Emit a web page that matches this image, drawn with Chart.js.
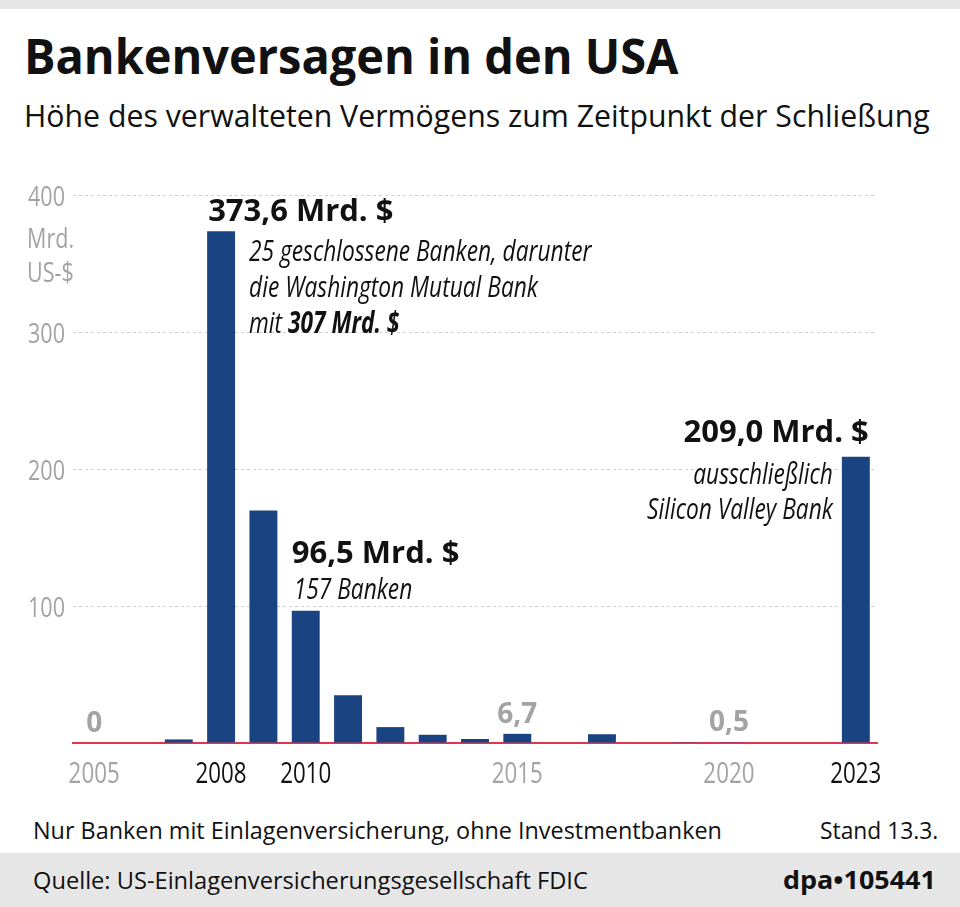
<!DOCTYPE html>
<html lang="de">
<head>
<meta charset="utf-8">
<title>Bankenversagen in den USA</title>
<script src="https://cdn.jsdelivr.net/npm/chart.js@4.4.1/dist/chart.umd.min.js"></script>
<style>
  body { margin: 0; width: 960px; height: 907px; position: relative; overflow: hidden; background: #fff; font-family: "Open Sans", sans-serif; color: #111; }
  .band { position: absolute; left: 0; width: 960px; background: #e6e6e6; }
  .txt { position: absolute; white-space: nowrap; line-height: 1; transform-origin: left center; }
  .txt.r { transform-origin: right center; }
  #chart { position: absolute; left: 0; top: 0; }
</style>
</head>
<body>
<div class="band" style="top:0;height:9px"></div>
<div class="band" style="top:853px;height:54px"></div>

<div class="txt" id="title" data-w="654" style="left:24px;font-size:49px;font-weight:700">Bankenversagen in den USA</div>
<div class="txt" id="subtitle" data-w="906" style="left:24px;font-size:31px">Höhe des verwalteten Vermögens zum Zeitpunkt der Schließung</div>
<div class="txt" id="note" data-w="689" style="left:33px;font-size:23px">Nur Banken mit Einlagenversicherung, ohne Investmentbanken</div>
<div class="txt r" id="stand" data-w="118" style="right:22px;font-size:23px">Stand 13.3.</div>
<div class="txt" id="source" data-w="555" style="left:33px;font-size:23px">Quelle: US-Einlagenversicherungsgesellschaft FDIC</div>
<div class="txt r" id="dpa" data-w="153" style="right:24px;font-size:25px;font-weight:700">dpa•105441</div>

<canvas id="chart" width="960" height="907"></canvas>

<script>
// Daten (FDIC, verwaltetes Vermögen geschlossener Banken, Mrd. US-$)
const years = ['2005', '2006', '2007', '2008', '2009', '2010', '2011', '2012', '2013', '2014',
               '2015', '2016', '2017', '2018', '2019', '2020', '2021', '2022', '2023'];
const assets = [0, 0, 2.6, 373.6, 169.7, 96.5, 34.9, 11.6, 6.0, 2.9,
                6.7, 0, 6.4, 0, 0.2, 0.5, 0, 0, 209.0];

const shownYears = ['2005', '2008', '2010', '2015', '2020', '2023'];
const darkYears = ['2008', '2010', '2023'];
const yTicks = [100, 200, 300, 400];
const unitLines = ['Mrd.', 'US-$'];

// graue Werte direkt über der Nulllinie
const greyValueYears = ['2005', '2015', '2020'];
// hervorgehobene Werte mit Erläuterung
const calloutYears = ['2008', '2010', '2023'];
const calloutNotes = [
    ['25 geschlossene Banken, darunter', 'die Washington Mutual Bank', 'mit **307 Mrd. $**'],
    ['157 Banken'],
    ['ausschließlich', 'Silicon Valley Bank']
];

const BLUE = '#1a4382';
const GREY = '#a3a3a3';
const RED = '#e3344f';
const FONT = '"Open Sans", "Noto Sans", sans-serif';
const SQUEEZE = 0.77; // schmale Schrift nachbilden

function fmt(v) {
    if (v === 0) return '0';
    return v.toLocaleString('de-DE', { minimumFractionDigits: 1, maximumFractionDigits: 1 });
}

// Text per Grundlinie setzen und horizontal auf Zielbreite stauchen
function place(id, baseline) {
    const el = document.getElementById(id);
    const fs = parseFloat(el.style.fontSize);
    el.style.top = (baseline - 0.888 * fs) + 'px';
    const target = parseFloat(el.dataset.w);
    el.style.transform = 'scaleX(' + (target / el.offsetWidth) + ')';
}
place('title', 75);
place('subtitle', 128);
place('note', 839);
place('stand', 839);
place('source', 889);
place('dpa', 889);

// schmaler Text, optional mit **fett** Abschnitten
function narrow(ctx, text, x, y, align, font, boldFont) {
    const parts = text.split('**');
    const fonts = parts.map((p, i) => i % 2 ? boldFont : font);
    let total = 0;
    parts.forEach((p, i) => { ctx.font = fonts[i]; total += ctx.measureText(p).width; });
    let cx = align === 'right' ? -total : align === 'center' ? -total / 2 : 0;
    ctx.save();
    ctx.translate(x, y);
    ctx.scale(SQUEEZE, 1);
    ctx.textAlign = 'left';
    parts.forEach((p, i) => {
        ctx.font = fonts[i];
        ctx.fillText(p, cx, 0);
        cx += ctx.measureText(p).width;
    });
    ctx.restore();
}

const annotations = {
    id: 'annotations',
    afterDraw(chart) {
        const ctx = chart.ctx;
        const bars = chart.getDatasetMeta(0).data;
        const xScale = chart.scales.x;
        const yScale = chart.scales.y;
        ctx.save();
        ctx.textBaseline = 'alphabetic';

        // y-Achse mit Einheit
        ctx.fillStyle = GREY;
        yScale.ticks.forEach(t => {
            if (!yTicks.includes(t.value)) return;
            narrow(ctx, String(t.value), 65, yScale.getPixelForValue(t.value) + 11, 'right', '28px ' + FONT);
        });
        unitLines.forEach((t, i) => narrow(ctx, t, 27, yScale.getPixelForValue(400) + 53 + i * 34, 'left', '28px ' + FONT));

        // x-Achse
        years.forEach((yr, i) => {
            if (!shownYears.includes(yr)) return;
            ctx.fillStyle = darkYears.includes(yr) ? '#111' : GREY;
            narrow(ctx, yr, xScale.getPixelForTick(i), 783, 'center', '29px ' + FONT);
        });

        // graue Kleinwerte
        ctx.fillStyle = GREY;
        ctx.font = '700 28px ' + FONT;
        ctx.textAlign = 'center';
        greyValueYears.forEach(yr => {
            const i = years.indexOf(yr);
            const b = bars[i];
            ctx.fillText(fmt(assets[i]), b.x, b.y - 11);
        });

        // Hervorhebungen
        const it = 'italic 400 29.5px ' + FONT;
        const itb = 'italic 700 29.5px ' + FONT;
        calloutYears.forEach((yr, k) => {
            const i = years.indexOf(yr);
            const b = bars[i];
            const left = b.x - b.width / 2, right = b.x + b.width / 2;
            const label = fmt(assets[i]) + ' Mrd. $';
            const notes = calloutNotes[k];
            ctx.fillStyle = '#111';
            ctx.font = '700 31px ' + FONT;
            if (yr === '2008') {
                ctx.textAlign = 'left';
                ctx.fillText(label, left + 1, b.y - 10);
                notes.forEach((t, j) => narrow(ctx, t, right + 14, b.y + 30 + j * 36, 'left', it, itb));
            } else if (yr === '2010') {
                ctx.textAlign = 'left';
                ctx.fillText(label, left, b.y - 48);
                notes.forEach((t, j) => narrow(ctx, t, left + 2, b.y - 12 + j * 36, 'left', it, itb));
            } else {
                ctx.textAlign = 'right';
                ctx.fillText(label, right - 1, b.y - 15);
                notes.forEach((t, j) => narrow(ctx, t, left - 9, b.y + 27 + j * 35, 'right', it, itb));
            }
        });
        ctx.restore();
    }
};

new Chart(document.getElementById('chart'), {
    type: 'bar',
    data: {
        labels: years,
        datasets: [{
            data: assets,
            backgroundColor: BLUE,
            categoryPercentage: 1,
            barPercentage: 0.66
        }]
    },
    options: {
        responsive: false,
        animation: false,
        layout: { padding: { left: 27, right: 83, top: 195, bottom: 104 } },
        plugins: {
            legend: { display: false },
            tooltip: { enabled: false }
        },
        scales: {
            x: {
                grid: { display: false, drawTicks: false },
                border: { color: RED, width: 2 },
                ticks: { display: false, autoSkip: false },
                afterFit: s => { s.height = 60; }
            },
            y: {
                min: 0,
                max: 400,
                afterBuildTicks: s => { s.ticks = [0].concat(yTicks).map(v => ({ value: v })); },
                grid: {
                    drawTicks: false,
                    color: ctx => ctx.tick && ctx.tick.value === 0 ? 'rgba(0,0,0,0)' : '#cfcfcf'
                },
                border: { display: false, dash: [3, 3] },
                ticks: { display: false },
                afterFit: s => { s.width = 46; }
            }
        }
    },
    plugins: [annotations]
});
</script>
</body>
</html>
